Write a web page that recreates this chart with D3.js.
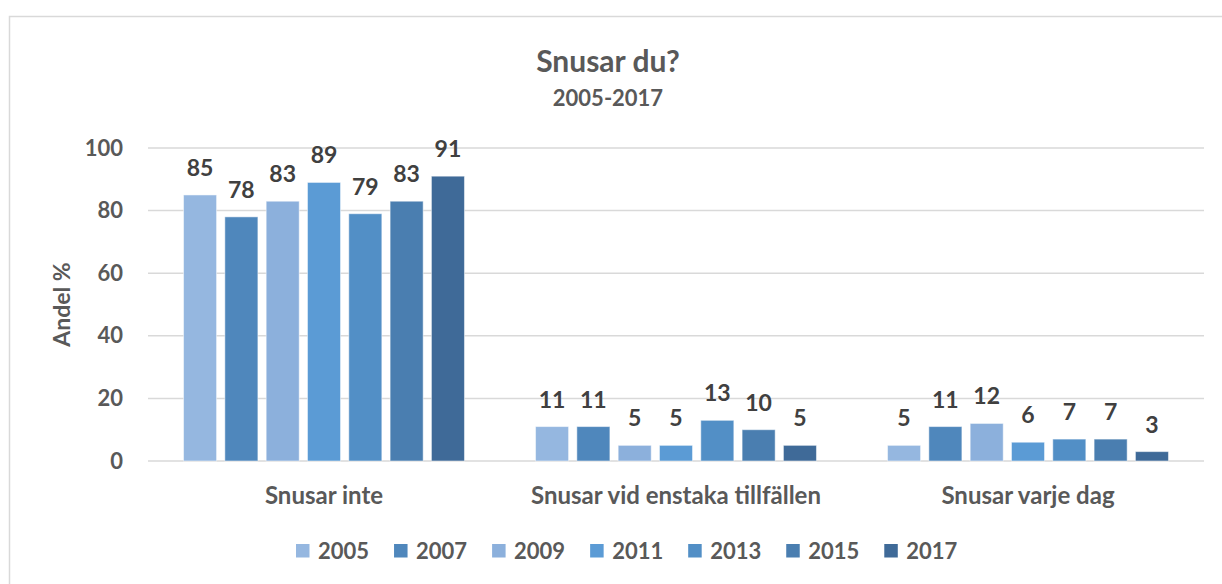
<!DOCTYPE html>
<html>
<head>
<meta charset="utf-8">
<script src="https://cdn.jsdelivr.net/npm/d3@7"></script>
<style>
  body { margin: 0; background: #fff; }
  svg { font-family: Lato, "Open Sans", sans-serif; font-weight: bold; }
</style>
</head>
<body>
<div id="chart"></div>
<script>
// data
const categories = ['Snusar inte', 'Snusar vid enstaka tillfällen', 'Snusar varje dag'];
const years = ['2005', '2007', '2009', '2011', '2013', '2015', '2017'];
const values = {
    '2005': [85, 11, 5],
    '2007': [78, 11, 11],
    '2009': [83, 5, 12],
    '2011': [89, 5, 6],
    '2013': [79, 13, 7],
    '2015': [83, 10, 7],
    '2017': [91, 5, 3]
};
const yTicks = [0, 20, 40, 60, 80, 100];
const colors = ['#95b7e0', '#4f87bc', '#8cb0dc', '#5b9bd5', '#528fc6', '#4a7eb0', '#3f6a98'];

const width = 1222, height = 584;
const margin = [148, 123, 148, 18]; // top, bottom, left, right

const svg = d3.select('#chart').append('svg')
    .attr('width', width)
    .attr('height', height);

// chart border
svg.append('rect')
    .attr('x', 9.5).attr('y', 16.5)
    .attr('width', 1230).attr('height', 600)
    .attr('fill', 'none')
    .attr('stroke', '#d9d9d9')
    .attr('stroke-width', 1.5);

const scaleX = d3.scaleBand(categories, [margin[2], width - margin[3]]);
const scaleYear = d3.scaleBand(years, [0, scaleX.bandwidth()])
    .paddingInner(0.2)
    .paddingOuter(0.86);
const scaleY = d3.scaleLinear([0, 100], [height - margin[1], margin[0]]);
const color = d3.scaleOrdinal(years, colors);

// gridlines
svg.append('g')
    .selectAll('line')
    .data(yTicks)
    .join('line')
    .attr('x1', margin[2]).attr('x2', width - margin[3])
    .attr('y1', d => scaleY(d)).attr('y2', d => scaleY(d))
    .attr('stroke', '#d9d9d9')
    .attr('stroke-width', 1.5);

// y axis labels
const axisY = svg.append('g')
    .attr('transform', `translate(${margin[2] - 25}, 0)`)
    .call(d3.axisLeft(scaleY).tickValues(yTicks).tickSize(0).tickPadding(0));
axisY.select('.domain').remove();
axisY.selectAll('text')
    .attr('fill', '#595959')
    .style('font-size', '22px')
    .style('font-family', 'Lato, sans-serif')
    .style('font-weight', 'bold');

// x axis labels
const axisX = svg.append('g')
    .attr('transform', `translate(0, ${scaleY(0)})`)
    .call(d3.axisBottom(scaleX).tickSize(0).tickPadding(26));
axisX.select('.domain').remove();
axisX.selectAll('text')
    .attr('fill', '#595959')
    .style('font-size', '24px')
    .style('font-family', 'Lato, sans-serif')
    .style('font-weight', 'bold');

// bars
const rows = [];
categories.forEach((c, i) => years.forEach(y => rows.push({ cat: c, year: y, value: values[y][i] })));

const bars = svg.append('g').selectAll('g')
    .data(rows)
    .join('g')
    .attr('transform', d => `translate(${scaleX(d.cat) + scaleYear(d.year)}, 0)`);

bars.append('rect')
    .attr('y', d => scaleY(d.value))
    .attr('width', scaleYear.bandwidth())
    .attr('height', d => scaleY(0) - scaleY(d.value))
    .attr('fill', d => color(d.year))
    .attr('stroke', '#ffffff')
    .attr('stroke-opacity', 0.5)
    .attr('stroke-width', 1);

bars.append('text')
    .attr('x', scaleYear.bandwidth() / 2)
    .attr('y', d => scaleY(d.value) - 19)
    .attr('text-anchor', 'middle')
    .attr('fill', '#404040')
    .style('font-size', '23px')
    .text(d => d.value);

// titles
svg.append('text')
    .attr('x', 608).attr('y', 72)
    .attr('text-anchor', 'middle')
    .attr('fill', '#595959')
    .style('font-size', '30px')
    .text('Snusar du?');
svg.append('text')
    .attr('x', 608).attr('y', 106)
    .attr('text-anchor', 'middle')
    .attr('fill', '#595959')
    .style('font-size', '22px')
    .text('2005-2017');

svg.append('text')
    .attr('transform', `translate(70, ${(scaleY(0) + scaleY(100)) / 2})rotate(-90)`)
    .attr('text-anchor', 'middle')
    .attr('fill', '#595959')
    .style('font-size', '23px')
    .text('Andel %');

// legend
const legend = svg.append('g').attr('transform', 'translate(296, 551)');
let lx = 0;
years.forEach((y, i) => {
    const item = legend.append('g').attr('transform', `translate(${lx}, 0)`);
    item.append('rect')
        .attr('x', 0).attr('y', -7)
        .attr('width', 13.5).attr('height', 13.5)
        .attr('fill', colors[i]);
    const t = item.append('text')
        .attr('x', 22).attr('y', 8)
        .attr('fill', '#595959')
        .style('font-size', '22px')
        .text(y);
    lx += 22 + t.node().getComputedTextLength() + 25;
});
</script>
</body>
</html>
